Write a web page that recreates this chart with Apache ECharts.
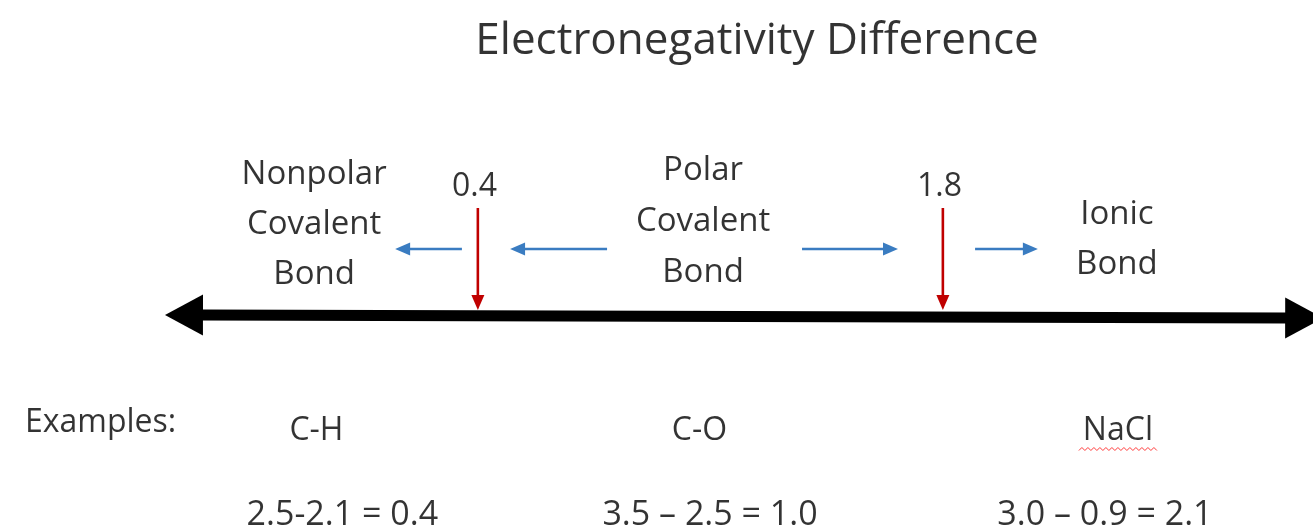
<!DOCTYPE html>
<html>
<head>
<meta charset="utf-8">
<script src="https://cdn.jsdelivr.net/npm/echarts@6/dist/echarts.min.js"></script>
<style>html,body{margin:0;padding:0;background:#fff;}#c{width:1313px;height:529px;}</style>
</head>
<body>
<div id="c"></div>
<script>
// ---- data ----
const titleText = 'Electronegativity Difference';
const thresholds = [0.4, 1.8];
const thresholdLabels = ['0.4', '1.8'];
const bondTypes = [['Nonpolar', 'Covalent', 'Bond'], ['Polar', 'Covalent', 'Bond'], ['Ionic', 'Bond']];
const bondCenters = [-0.093, 1.078, 2.324];
const examples = ['C-H', 'C-O', 'NaCl'];
const exampleCenters = [-0.086, 1.067, 2.327];
const exampleCalcs = ['2.5-2.1 = 0.4', '3.5 \u2013 2.5 = 1.0', '3.0 \u2013 0.9 = 2.1'];
const calcCenters = [-0.008, 1.099, 2.288];
// blue direction arrows: [from, to] in difference units
const blueArrows = [[0.352, 0.151], [0.789, 0.497], [1.376, 1.665], [1.897, 2.086]];
// number line extent
const lineRange = [-0.542, 2.945];
const axisRange = [-1.0387, 2.9144];
const titleCenter = 1.2405;

// ---- layout rows (px from top, cap-middle of text) ----
const ROW = { title: 38, thrLabel: 184, thrTop: 208, line: 315, blue: 249, ex: 428, exHead: 420, calc: 512 };
const bondRows = [[172, 222, 272], [168, 219, 270], [212, 262]];
const DY = 3; // em-middle to cap-middle correction

const FONT = 'Open Sans';
const TXT = '#000';

function arrowRenderer(color, lw, headLen, headW) {
  return function (params, api) {
    const p1 = api.coord([api.value(0), api.value(1)]);
    const p2 = api.coord([api.value(2), api.value(3)]);
    const both = api.value(4) === 1;
    const dx = p2[0] - p1[0], dy = p2[1] - p1[1];
    const L = Math.sqrt(dx * dx + dy * dy);
    const ux = dx / L, uy = dy / L, nx = -uy, ny = ux;
    const head = (tip, sx, sy) => {
      const bx = tip[0] - sx * headLen, by = tip[1] - sy * headLen;
      return { type: 'polygon', shape: { points: [tip, [bx + nx * headW / 2, by + ny * headW / 2], [bx - nx * headW / 2, by - ny * headW / 2]] }, style: { fill: color } };
    };
    const s = both ? [p1[0] + ux * (headLen - 1), p1[1] + uy * (headLen - 1)] : p1;
    const e = [p2[0] - ux * (headLen - 1), p2[1] - uy * (headLen - 1)];
    const children = [{ type: 'line', shape: { x1: s[0], y1: s[1], x2: e[0], y2: e[1] }, style: { stroke: color, lineWidth: lw } }, head(p2, ux, uy)];
    if (both) children.push(head(p1, -ux, -uy));
    return { type: 'group', children };
  };
}

function textSeries(data, size, extra) {
  return {
    type: 'scatter', symbolSize: 0, silent: true, data,
    label: Object.assign({ show: true, position: 'inside', formatter: p => p.data.t, color: TXT, fontFamily: FONT, fontSize: size }, extra || {})
  };
}

const bondData = [];
bondTypes.forEach((b, i) => b.forEach((w, j) => bondData.push({ value: [bondCenters[i], bondRows[i][j] + DY], t: w })));

const chart = echarts.init(document.getElementById('c'), null, { renderer: 'canvas' });
chart.setOption({
  backgroundColor: '#fff',
  animation: false,
  grid: { left: 0, right: 0, top: 0, bottom: 0 },
  xAxis: { type: 'value', min: axisRange[0], max: axisRange[1], show: false },
  yAxis: { type: 'value', min: 0, max: 529, inverse: true, show: false },
  series: [
    // title
    textSeries([{ value: [titleCenter, ROW.title + DY], t: titleText }], 44),
    // black number line
    { type: 'custom', renderItem: arrowRenderer('#000', 11, 38, 41), data: [[lineRange[0], ROW.line, lineRange[1], ROW.line + 3, 1]], silent: true },
    // red threshold markers
    { type: 'custom', renderItem: arrowRenderer('#c00000', 2.6, 15, 13), data: thresholds.map(v => [v, ROW.thrTop, v, ROW.line - 5, 0]), silent: true },
    // blue direction arrows
    { type: 'custom', renderItem: arrowRenderer('#3a7cc1', 2.5, 15, 13), data: blueArrows.map(a => [a[0], ROW.blue, a[1], ROW.blue, 0]), silent: true },
    // threshold labels
    textSeries(thresholds.map((v, i) => ({ value: [v - 0.01, ROW.thrLabel + DY], t: thresholdLabels[i] })), 32),
    // bond type labels
    textSeries(bondData, 33),
    // examples heading
    textSeries([{ value: [axisRange[0], ROW.exHead + DY], t: 'Examples:' }], 32, { position: 'right', distance: 25 }),
    // example molecules
    textSeries(examples.map((e, i) => ({ value: [exampleCenters[i], ROW.ex + DY], t: e })), 32),
    // example calculations
    textSeries(exampleCalcs.map((e, i) => ({ value: [calcCenters[i], ROW.calc + DY], t: e })), 34),
    // spell-check squiggle under NaCl
    { type: 'custom', silent: true, data: [[exampleCenters[2], ROW.ex + 21]],
      renderItem: function (params, api) {
        const c = api.coord([api.value(0), api.value(1)]);
        const pts = [];
        for (let k = 0; k <= 26; k++) pts.push([c[0] - 39 + k * 3, c[1] + (k % 2 ? -1.5 : 1.5)]);
        return { type: 'polyline', shape: { points: pts }, style: { stroke: '#ff3b3b', lineWidth: 1, fill: null } };
      } }
  ]
});
</script>
</body>
</html>
